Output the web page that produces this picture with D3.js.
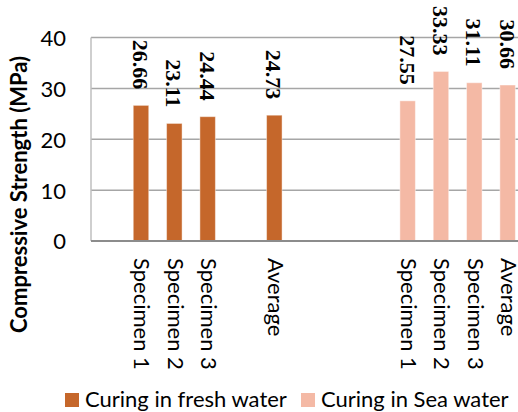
<!DOCTYPE html>
<html>
<head>
<meta charset="utf-8">
<script src="https://cdn.jsdelivr.net/npm/d3@7"></script>
<style>
  html, body { margin: 0; padding: 0; background: #fff; }
  svg { display: block; }
</style>
</head>
<body>
<svg id="chart" width="518" height="412"></svg>
<script>
// Category slots along the x axis (blank slots separate the two groups)
const categories = ["", "Specimen 1", "Specimen 2", "Specimen 3", "", "Average", "", "", "",
                    "Specimen 1", "Specimen 2", "Specimen 3", "Average", ""];
// Compressive strength (MPa) per slot for each curing condition
const freshWater = [null, 26.66, 23.11, 24.44, null, 24.73, null, null, null, null, null, null, null, null];
const seaWater   = [null, null, null, null, null, null, null, null, null, 27.55, 33.33, 31.11, 30.66, null];
const seriesNames = ["Curing in fresh water", "Curing in Sea water"];
const seriesColors = ["#C5672B", "#F4B9A5"];
const yTicks = [0, 10, 20, 30, 40];
const yTitle = "Compressive Strength (MPa)";

const svg = d3.select("#chart");
const sansFont = "Lato, 'Open Sans', sans-serif";
const serifFont = "'Liberation Serif', 'DejaVu Serif', serif";

const plot = { left: 91, top: 37.5, bottom: 241, right: 91 + 14 * 33.33 };

const x = d3.scaleBand()
  .domain(d3.range(categories.length))
  .range([plot.left, plot.right])
  .paddingInner(0.535)
  .paddingOuter(0.2675);

const y = d3.scaleLinear().domain([0, 40]).range([plot.bottom, plot.top]);

// Horizontal gridlines
svg.append("g")
  .selectAll("line")
  .data(yTicks.filter(d => d > 0))
  .join("line")
  .attr("x1", plot.left).attr("x2", plot.right)
  .attr("y1", d => y(d)).attr("y2", d => y(d))
  .attr("stroke", "#a6a6a6").attr("stroke-width", 1.5);

// Plot area left border
svg.append("line")
  .attr("x1", plot.left).attr("x2", plot.left)
  .attr("y1", plot.top).attr("y2", plot.bottom)
  .attr("stroke", "#bfbfbf").attr("stroke-width", 1.5);

// Y axis tick labels
const yAxis = d3.axisLeft(y).tickValues(yTicks).tickSize(0).tickPadding(0).tickFormat(d3.format("d"));
const yg = svg.append("g").attr("transform", `translate(${plot.left - 25},0)`).call(yAxis);
yg.select(".domain").remove();
yg.selectAll("text")
  .attr("font-family", sansFont).attr("font-size", 22).attr("fill", "#000")
  .attr("dy", "0.36em");

// Y axis title
svg.append("text")
  .attr("transform", `translate(27,${333}) rotate(-90)`)
  .attr("text-anchor", "start")
  .attr("font-family", sansFont).attr("font-size", 22).attr("font-weight", "bold")
  .attr("fill", "#000")
  .text(yTitle);

// Bars and value labels for each series
const allSeries = [freshWater, seaWater];
allSeries.forEach((values, si) => {
  const pts = values.map((v, i) => ({ i, v })).filter(d => d.v != null);
  svg.append("g")
    .selectAll("rect")
    .data(pts)
    .join("rect")
    .attr("x", d => x(d.i))
    .attr("width", x.bandwidth())
    .attr("y", d => y(d.v))
    .attr("height", d => y(0) - y(d.v))
    .attr("fill", seriesColors[si])
    .attr("stroke", "#ffffff").attr("stroke-opacity", 0.45).attr("stroke-width", 1);

  svg.append("g")
    .selectAll("text")
    .data(pts)
    .join("text")
    .attr("transform", d => `translate(${x(d.i) + x.bandwidth() / 2},${y(d.v) - 16}) rotate(90)`)
    .attr("text-anchor", "end")
    .attr("dy", "0.36em")
    .attr("font-family", serifFont).attr("font-size", 22).attr("font-weight", "bold")
    .attr("fill", "#000")
    .text(d => d.v.toFixed(2));
});

// X axis baseline
svg.append("line")
  .attr("x1", plot.left).attr("x2", plot.right)
  .attr("y1", y(0)).attr("y2", y(0))
  .attr("stroke", "#8c8c8c").attr("stroke-width", 2);

// Category labels, rotated
svg.append("g")
  .selectAll("text")
  .data(categories.map((c, i) => ({ c, i })).filter(d => d.c !== ""))
  .join("text")
  .attr("transform", d => `translate(${x(d.i) + x.bandwidth() / 2},258) rotate(90)`)
  .attr("text-anchor", "start")
  .attr("dy", "0.3em")
  .attr("font-family", sansFont).attr("font-size", 22)
  .attr("fill", "#000")
  .text(d => d.c);

// Legend
const legendX = [65, 301];
const legend = svg.append("g");
seriesNames.forEach((name, i) => {
  legend.append("rect")
    .attr("x", legendX[i]).attr("y", 393)
    .attr("width", 14).attr("height", 14)
    .attr("fill", seriesColors[i]);
  legend.append("text")
    .attr("x", legendX[i] + 20).attr("y", 407)
    .attr("font-family", sansFont).attr("font-size", 22)
    .attr("fill", "#000")
    .text(name);
});
</script>
</body>
</html>
